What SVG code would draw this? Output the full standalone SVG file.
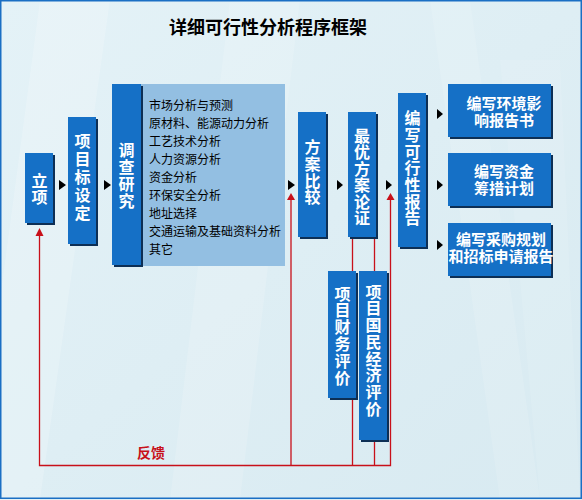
<svg xmlns="http://www.w3.org/2000/svg" width="582" height="500" viewBox="0 0 582 500">
<defs>
<linearGradient id="bg" x1="0" y1="0" x2="1" y2="1">
<stop offset="0" stop-color="#e4f2f7"/>
<stop offset="1" stop-color="#d8eaf1"/>
</linearGradient>
<style>
.box{fill:#1570c6}
.sh{fill:#0d2f55}
.vt{font-family:"Noto Sans CJK SC","Liberation Sans",sans-serif;font-size:16px;font-weight:bold;fill:#ffffff;text-anchor:middle;writing-mode:vertical-rl;text-orientation:upright}
.ht{font-family:"Liberation Sans","Noto Sans CJK SC",sans-serif;font-size:15px;font-weight:bold;fill:#ffffff;text-anchor:middle}
.lt{font-family:"Noto Sans CJK SC","Liberation Sans",sans-serif;font-size:12px;fill:#000000}
.arr{fill:#000000}
.red{stroke:#c8101a;stroke-width:1.3;fill:none}
.rarr{fill:#c8101a}
</style>
</defs>
<rect x="0" y="0" width="582" height="500" fill="url(#bg)"/>
<polygon points="40,0 110,0 40,500 0,500 0,300" fill="#ffffff" opacity="0.18"/>
<polygon points="230,0 300,0 240,500 170,500" fill="#ffffff" opacity="0.15"/>
<polygon points="430,0 470,0 540,500 500,500" fill="#ffffff" opacity="0.12"/>
<polygon points="500,60 560,60 580,500 540,500" fill="#ffffff" opacity="0.1"/>
<rect x="0.75" y="0.75" width="580.5" height="497.5" fill="none" stroke="#1a6fc4" stroke-width="1.5"/>

<text x="268" y="33.5" font-family="'Noto Sans CJK SC','Liberation Sans',sans-serif" font-size="18" font-weight="bold" fill="#000000" text-anchor="middle">详细可行性分析程序框架</text>

<rect id="panel" x="141" y="84" width="144" height="182" fill="#93bfe2"/>

<g id="connectors">
<polygon class="arr" points="59,180 66,185 59,190"/>
<polygon class="arr" points="104,180 111,185 104,190"/>
<polygon class="arr" points="288,180 295,185 288,190"/>
<polygon class="arr" points="337,180 343,185 337,190"/>
<polygon class="arr" points="386,180 392,185 386,190"/>
<polygon class="arr" points="437,109 443,114 437,119"/>
<polygon class="arr" points="437,180 443,185 437,190"/>
<polygon class="arr" points="437,240 443,245 437,250"/>
<polyline class="red" points="39.5,235 39.5,465.5 390.5,465.5 390.5,199"/>
<line class="red" x1="291" y1="465.5" x2="291" y2="199"/>
<line class="red" x1="352.5" y1="239" x2="352.5" y2="271"/>
<line class="red" x1="374.5" y1="239" x2="374.5" y2="271"/>
<line class="red" x1="352.5" y1="400" x2="352.5" y2="465.5"/>
<line class="red" x1="374.5" y1="442" x2="374.5" y2="465.5"/>
<polygon class="rarr" points="39.5,228 35.5,236 43.5,236"/>
<polygon class="rarr" points="291,193 287,200 295,200"/>
<polygon class="rarr" points="390.5,193 386.5,200 394.5,200"/>
<text x="151" y="458" font-family="'Noto Sans CJK SC','Liberation Sans',sans-serif" font-size="14" font-weight="bold" fill="#c8101a" text-anchor="middle">反馈</text>
</g>

<g id="n1">
<rect class="sh" x="27" y="155" width="28" height="70"/>
<rect class="box" x="25" y="153" width="28" height="70"/>
<text class="vt" x="39.5" y="188.5">立项</text>
</g>

<g id="n2">
<rect class="sh" x="70" y="119" width="28" height="127"/>
<rect class="box" x="68" y="117" width="28" height="127"/>
<text class="vt" x="82.5" y="178" letter-spacing="2">项目标设定</text>
</g>

<g id="n3">
<rect class="sh" x="114" y="86" width="29" height="181"/>
<rect class="box" x="112" y="84" width="29" height="181"/>
<text class="vt" x="126.5" y="175.5" font-size="15" letter-spacing="1">调查研究</text>
</g>

<g id="n3list">
<text class="lt"><tspan x="149" y="109.5">市场分析与预测</tspan><tspan x="149" y="127.5">原材料、能源动力分析</tspan><tspan x="149" y="145.5">工艺技术分析</tspan><tspan x="149" y="163.5">人力资源分析</tspan><tspan x="149" y="181.5">资金分析</tspan><tspan x="149" y="199.5">环保安全分析</tspan><tspan x="149" y="217.5">地址选择</tspan><tspan x="149" y="235.5">交通运输及基础资料分析</tspan><tspan x="149" y="253.5">其它</tspan></text>
</g>

<g id="n4">
<rect class="sh" x="300" y="114" width="28" height="125"/>
<rect class="box" x="298" y="112" width="28" height="125"/>
<text class="vt" x="312.5" y="172.5" font-size="14.5" letter-spacing="0.8">方案比较</text>
</g>

<g id="n5">
<rect class="sh" x="350" y="114" width="28" height="125"/>
<rect class="box" x="348" y="112" width="28" height="125"/>
<text class="vt" x="362" y="177" font-size="14.5" letter-spacing="0.5">最优方案论证</text>
</g>

<g id="n6">
<rect class="sh" x="400" y="95" width="28" height="154"/>
<rect class="box" x="398" y="93" width="28" height="154"/>
<text class="vt" x="412.5" y="168.5" font-size="15" letter-spacing="0.7">编写可行性报告</text>
</g>

<g id="n7">
<rect class="sh" x="450" y="86" width="103" height="53"/>
<rect class="box" x="448" y="84" width="103" height="53"/>
<text class="ht" x="504" y="108.5">编写环境影</text>
<text class="ht" x="504" y="125.5">响报告书</text>
</g>

<g id="n8">
<rect class="sh" x="450" y="155" width="103" height="53"/>
<rect class="box" x="448" y="153" width="103" height="53"/>
<text class="ht" x="504" y="176.5">编写资金</text>
<text class="ht" x="504" y="193.5">筹措计划</text>
</g>

<g id="n9">
<rect class="sh" x="450" y="225" width="103" height="53"/>
<rect class="box" x="448" y="223" width="103" height="53"/>
<text class="ht" x="501" y="245" font-size="14">编写采购规划</text>
<text class="ht" x="501" y="262" font-size="14">和招标申请报告</text>
</g>

<g id="n10">
<rect class="sh" x="330" y="273" width="28" height="127"/>
<rect class="box" x="328" y="271" width="28" height="127"/>
<text class="vt" x="342.5" y="336" font-size="15" letter-spacing="0.8">项目财务评价</text>
</g>

<g id="n11">
<rect class="sh" x="361" y="273" width="28" height="169"/>
<rect class="box" x="359" y="271" width="28" height="169"/>
<text class="vt" x="373.5" y="350.5" font-size="15" letter-spacing="0.75">项目国民经济评价</text>
</g>
</svg>
